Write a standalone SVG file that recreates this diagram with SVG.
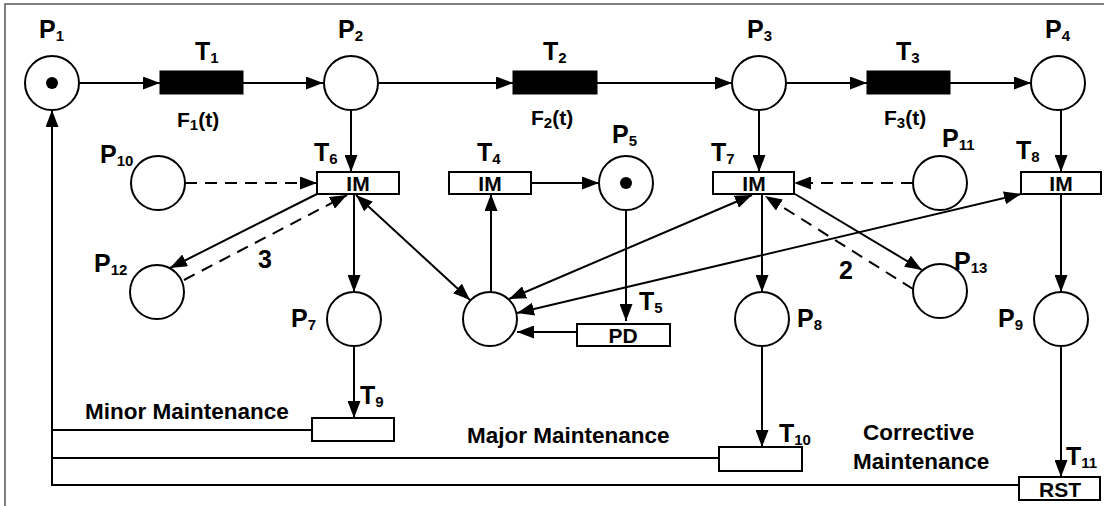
<svg xmlns="http://www.w3.org/2000/svg" width="1104" height="506" viewBox="0 0 1104 506">
<defs>
<marker id="ah" markerUnits="userSpaceOnUse" markerWidth="17" markerHeight="13" refX="17" refY="6.5" orient="auto-start-reverse">
<path d="M0,0 L17,6.5 L0,13 z" fill="#000"/>
</marker>
</defs>
<style>
.pl{fill:#fff;stroke:#000;stroke-width:2}
.tr{fill:#fff;stroke:#000;stroke-width:2}
.tb{fill:#000;stroke:#000;stroke-width:1}
.ar{stroke:#000;stroke-width:2;fill:none;marker-end:url(#ah)}
.dbl{marker-start:url(#ah)}
.ln{stroke:#000;stroke-width:2;fill:none}
.ds{stroke-dasharray:12 8}
.tok{fill:#000}
text{font-family:"Liberation Sans",Arial,sans-serif;font-weight:bold;fill:#000}
.lb{font-size:25px}
.sb{font-size:15px}
.ft{font-size:21px}
.in{font-size:21px;text-anchor:middle}
.cap{font-size:22.5px}
.num{font-size:25px}
</style>
<path d="M5,506 V4 H1104" fill="none" stroke="#555" stroke-width="1.5"/>
<g id="connectors">
<line class="ar" x1="80" y1="83" x2="160" y2="83"/>
<line class="ar" x1="243" y1="83" x2="323" y2="83"/>
<line class="ar" x1="379" y1="83" x2="513" y2="83"/>
<line class="ar" x1="597" y1="83" x2="732" y2="83"/>
<line class="ar" x1="787" y1="83" x2="867" y2="83"/>
<line class="ar" x1="950" y1="83" x2="1031" y2="83"/>
<line class="ar" x1="351" y1="110" x2="351" y2="172"/>
<line class="ar ds" x1="185" y1="183" x2="317" y2="183"/>
<line class="ar" x1="317" y1="194" x2="170" y2="268"/>
<line class="ar ds" x1="184" y1="280" x2="347" y2="195"/>
<line class="ar" x1="354" y1="194" x2="354" y2="292"/>
<line class="ar dbl" x1="356" y1="195" x2="470" y2="300"/>
<line class="ar" x1="491" y1="292" x2="491" y2="194"/>
<line class="ar" x1="531" y1="183" x2="599" y2="183"/>
<line class="ar" x1="626" y1="211" x2="626" y2="321"/>
<line class="ar" x1="577" y1="332" x2="517" y2="332"/>
<line class="ar dbl" x1="752" y1="195" x2="509" y2="299"/>
<line class="ar dbl" x1="1021" y1="194" x2="517" y2="313"/>
<line class="ar" x1="759" y1="110" x2="759" y2="172"/>
<line class="ar ds" x1="913" y1="183" x2="794" y2="183"/>
<line class="ar" x1="795" y1="194" x2="922" y2="270"/>
<line class="ar ds" x1="913" y1="289" x2="765" y2="196"/>
<line class="ar" x1="762" y1="194" x2="762" y2="292"/>
<line class="ar" x1="1061" y1="110" x2="1061" y2="172"/>
<line class="ar" x1="1061" y1="194" x2="1061" y2="292"/>
<line class="ar" x1="354" y1="346" x2="354" y2="418"/>
<line class="ar" x1="762" y1="346" x2="762" y2="447"/>
<line class="ar" x1="1061" y1="346" x2="1061" y2="477"/>
<line class="ln" x1="312" y1="430" x2="52" y2="430"/>
<line class="ln" x1="719" y1="458" x2="52" y2="458"/>
<line class="ln" x1="1019" y1="485" x2="52" y2="485"/>
<line class="ar" x1="52" y1="486" x2="52" y2="110"/>
<text class="num" x="258" y="268">3</text>
<text class="num" x="839" y="279">2</text>
</g>
<g id="P1"><circle class="pl" cx="52" cy="83" r="27"/><circle class="tok" cx="52" cy="83" r="6"/><text class="lb" x="39" y="38">P<tspan class="sb" dy="3">1</tspan></text></g>
<g id="T1"><rect class="tb" x="160" y="71" width="83" height="23"/><text class="lb" x="195" y="60">T<tspan class="sb" dy="3">1</tspan></text><text class="ft" x="177" y="127">F<tspan class="sb" dy="3">1</tspan><tspan dy="-3">(t)</tspan></text></g>
<g id="P2"><circle class="pl" cx="351" cy="83" r="27"/><text class="lb" x="338" y="38">P<tspan class="sb" dy="3">2</tspan></text></g>
<g id="T2"><rect class="tb" x="513" y="71" width="84" height="23"/><text class="lb" x="543" y="60">T<tspan class="sb" dy="3">2</tspan></text><text class="ft" x="531" y="125">F<tspan class="sb" dy="3">2</tspan><tspan dy="-3">(t)</tspan></text></g>
<g id="P3"><circle class="pl" cx="759" cy="83" r="27"/><text class="lb" x="747" y="38">P<tspan class="sb" dy="3">3</tspan></text></g>
<g id="T3"><rect class="tb" x="867" y="71" width="83" height="23"/><text class="lb" x="896" y="60">T<tspan class="sb" dy="3">3</tspan></text><text class="ft" x="884" y="125">F<tspan class="sb" dy="3">3</tspan><tspan dy="-3">(t)</tspan></text></g>
<g id="P4"><circle class="pl" cx="1058" cy="83" r="27"/><text class="lb" x="1045" y="38">P<tspan class="sb" dy="3">4</tspan></text></g>
<g id="P10"><circle class="pl" cx="158" cy="183" r="27"/><text class="lb" x="100" y="163">P<tspan class="sb" dy="3">10</tspan></text></g>
<g id="T6"><rect class="tr" x="317" y="172" width="82" height="22"/><text class="in" x="358" y="191">IM</text><text class="lb" x="314" y="161">T<tspan class="sb" dy="3">6</tspan></text></g>
<g id="T4"><rect class="tr" x="449" y="172" width="82" height="22"/><text class="in" x="490" y="191">IM</text><text class="lb" x="477" y="161">T<tspan class="sb" dy="3">4</tspan></text></g>
<g id="P5"><circle class="pl" cx="626" cy="183" r="27"/><circle class="tok" cx="626" cy="183" r="6"/><text class="lb" x="612" y="143">P<tspan class="sb" dy="3">5</tspan></text></g>
<g id="T7"><rect class="tr" x="713" y="172" width="81" height="22"/><text class="in" x="754" y="191">IM</text><text class="lb" x="711" y="161">T<tspan class="sb" dy="3">7</tspan></text></g>
<g id="P11"><circle class="pl" cx="940" cy="183" r="27"/><text class="lb" x="942" y="147">P<tspan class="sb" dy="3">11</tspan></text></g>
<g id="T8"><rect class="tr" x="1021" y="172" width="80" height="22"/><text class="in" x="1061" y="191">IM</text><text class="lb" x="1016" y="159">T<tspan class="sb" dy="3">8</tspan></text></g>
<g id="P12"><circle class="pl" cx="157" cy="292" r="27"/><text class="lb" x="94" y="272">P<tspan class="sb" dy="3">12</tspan></text></g>
<g id="P7"><circle class="pl" cx="354" cy="319" r="27"/><text class="lb" x="291" y="327">P<tspan class="sb" dy="3">7</tspan></text></g>
<g id="P6"><circle class="pl" cx="490" cy="319" r="27"/></g>
<g id="T5"><rect class="tr" x="577" y="324" width="93" height="22"/><text class="in" x="623" y="343">PD</text><text class="lb" x="639" y="310">T<tspan class="sb" dy="3">5</tspan></text></g>
<g id="P13"><circle class="pl" cx="940" cy="291" r="27"/><text class="lb" x="954" y="270">P<tspan class="sb" dy="3">13</tspan></text></g>
<g id="P8"><circle class="pl" cx="762" cy="319" r="27"/><text class="lb" x="797" y="327">P<tspan class="sb" dy="3">8</tspan></text></g>
<g id="P9"><circle class="pl" cx="1061" cy="319" r="27"/><text class="lb" x="998" y="327">P<tspan class="sb" dy="3">9</tspan></text></g>
<g id="T9"><rect class="tr" x="312" y="418" width="82" height="23"/><text class="lb" x="360" y="404">T<tspan class="sb" dy="3">9</tspan></text></g>
<g id="T10"><rect class="tr" x="719" y="447" width="83" height="24"/><text class="lb" x="779" y="442">T<tspan class="sb" dy="3">10</tspan></text></g>
<g id="T11"><rect class="tr" x="1019" y="477" width="81" height="23"/><text class="in" x="1060" y="497">RST</text><text class="lb" x="1066" y="465">T<tspan class="sb" dy="3">11</tspan></text></g>
<g id="labels">
<text class="cap" x="85" y="419">Minor Maintenance</text>
<text class="cap" x="467" y="443">Major Maintenance</text>
<text class="cap" x="863" y="440">Corrective</text>
<text class="cap" x="853" y="469">Maintenance</text>
</g>
</svg>
